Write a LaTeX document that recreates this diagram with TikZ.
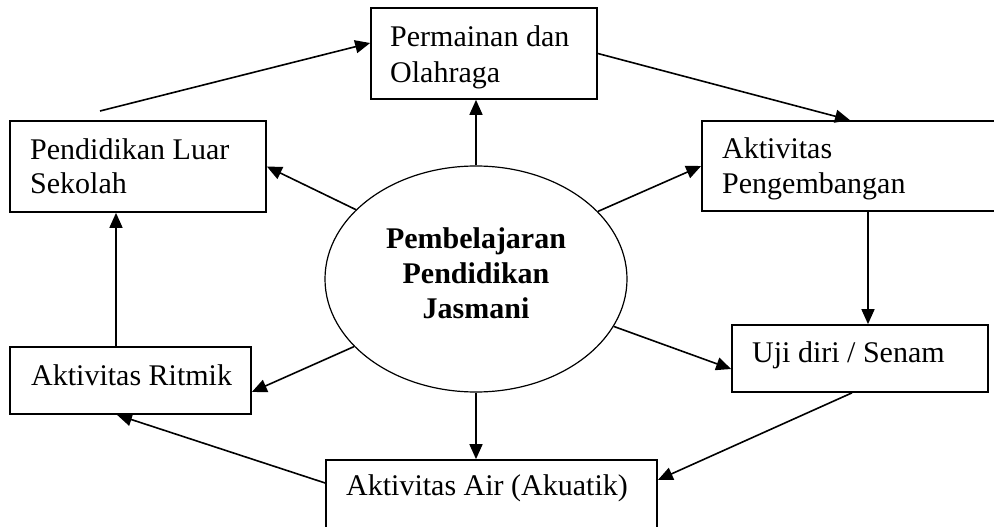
\documentclass[tikz,border=0pt]{standalone}
\usepackage{fontspec}
\setmainfont{Liberation Serif}
\usetikzlibrary{arrows.meta,shapes.geometric}
\begin{document}
\begin{tikzpicture}[x=1pt,y=-1pt,
 box/.style={draw,line width=1.7pt,rectangle,inner sep=0pt},
 lbl/.style={inner sep=0pt,anchor=base west,font=\fontsize{30}{35}\selectfont},
 blbl/.style={inner sep=0pt,anchor=base,font=\fontsize{30}{35}\selectfont\bfseries},
 conn/.style={line width=1.6pt,-{Triangle[length=15pt,width=13pt]}}]
\useasboundingbox (0,0) rectangle (994,527);
\fill[white] (0,0) rectangle (994,527);
\clip (0,0) rectangle (994,527);
% boxes
\node[box, minimum width=226pt, minimum height=91pt] (perm) at (484,53.5) {};
\node[box, minimum width=256pt, minimum height=91pt] (pls) at (138,166.5) {};
\node[box, minimum width=310pt, minimum height=90pt] (peng) at (857,166) {};
\node[box, minimum width=241pt, minimum height=67pt] (ritm) at (130.5,380.5) {};
\node[box, minimum width=256pt, minimum height=67pt] (uji) at (860,358.5) {};
\node[box, minimum width=331pt, minimum height=75pt] (air) at (491.5,497.5) {};
\node[ellipse, draw, line width=1.2pt, minimum width=302pt, minimum height=226pt, inner sep=0pt] (ell) at (476,279) {};
% texts
\node[lbl] (permA) at (390,47) {Permainan dan};
\node[lbl] (permB) at (390,82) {Olahraga};
\node[lbl] (plsA) at (30,159) {Pendidikan Luar};
\node[lbl] (plsB) at (30,193) {Sekolah};
\node[lbl] (pengA) at (722,158) {Aktivitas};
\node[lbl] (pengB) at (722,193) {Pengembangan};
\node[lbl] (ritmA) at (31,385) {Aktivitas Ritmik};
\node[lbl] (ujiA) at (752,362) {Uji diri / Senam};
\node[lbl] (airA) at (346,495) {Aktivitas Air (Akuatik)};
\node[blbl] (ellA) at (476,248) {Pembelajaran};
\node[blbl] (ellB) at (476,283) {Pendidikan};
\node[blbl] (ellC) at (476,318) {Jasmani};
% connectors
\coordinate (a1) at (100,111);
\draw[conn] (a1) -- ([yshift=10.5pt]perm.west);
\draw[conn] (perm.east) -- ([xshift=-7pt]peng.north);
\draw[conn] (ell.north) -- (ell.north |- perm.south);
\draw[conn] (ell.150) -- (pls.east);
\draw[conn] (ell.29) -- (peng.west);
\draw[conn] (ell.209.5) -- ([yshift=-11.5pt]ritm.east);
\draw[conn] (ell.341.4) -- ([yshift=-10.5pt]uji.west);
\draw[conn] (ell.south) -- (ell.south |- air.north);
\draw[conn] ([xshift=11pt]peng.south) -- ([xshift=11pt]peng.south |- uji.north);
\draw[conn] ([xshift=-8pt]uji.south) -- ([yshift=17.5pt]air.east);
\draw[conn] ([yshift=14.5pt]air.west) -- ([xshift=-13.5pt]ritm.south);
\draw[conn] ([xshift=-14.5pt]ritm.north) -- ([xshift=-14.5pt]ritm.north |- pls.south);
\end{tikzpicture}
\end{document}
